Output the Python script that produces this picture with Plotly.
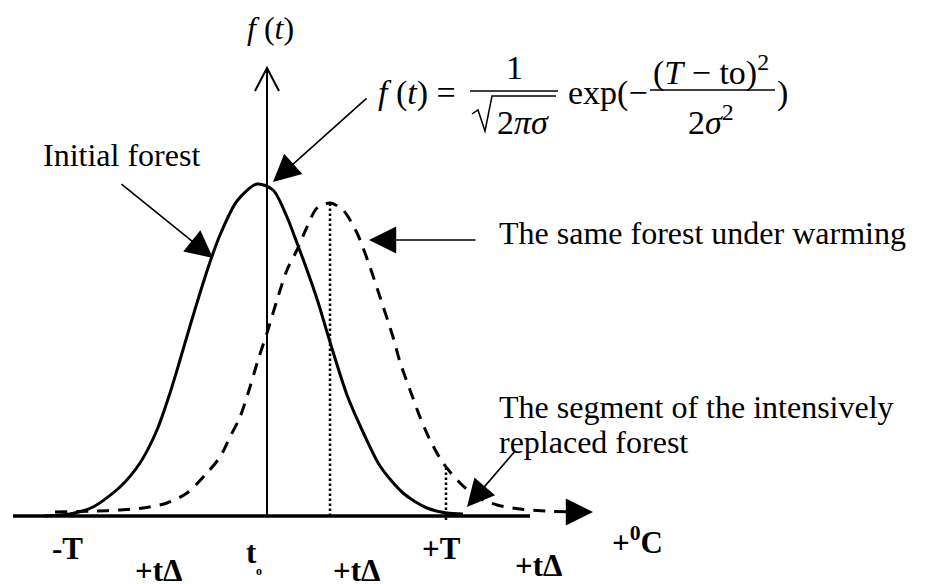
import numpy as np
import plotly.graph_objects as go

# temperature axis position (picture units) and f(t) height above the baseline
t_initial = [45, 70, 93, 120, 140, 157, 170, 180, 190, 200, 210, 220, 237, 257,
             273, 287, 297, 307, 318, 330, 347, 363, 380, 403, 427, 447, 463]
f_initial = [0, 2, 9, 29, 53, 86, 123, 156, 190, 223, 254, 281, 315, 332,
             326, 299, 273, 246, 214, 174, 121, 84, 50, 23, 8, 3, 2]

t_warm = [55, 97, 120, 143, 167, 187, 207, 220, 230, 240, 250, 258, 267, 277, 287,
          297, 307, 317, 330, 343, 357, 370, 380, 393, 400, 410, 420, 430, 443,
          460, 477, 497, 520, 545, 575]
f_warm = [4, 5, 6, 8, 13, 23, 43, 59, 79, 99, 129, 156, 183, 216, 246,
          266, 289, 308, 313, 306, 283, 249, 219, 179, 154, 126, 99, 76, 53,
          33, 19, 11, 7, 5, 4]

t_zero = 267
t_plus = 446

bottom_labels = ["-T", "+tΔ", "t", "+tΔ", "+T", "+tΔ", "+<sup>0</sup>C"]
bottom_x = [67, 158, 251, 356, 441, 538, 637]
bottom_y = [-32, -54, -36, -54, -32, -49, -24]

SERIF = "Liberation Serif, Times New Roman, serif"
BIG = 32
EQ = 34

fig = go.Figure()

fig.add_trace(go.Scatter(
    x=t_initial, y=f_initial, mode="lines", name="Initial forest",
    line=dict(color="black", width=3, shape="spline", smoothing=0.8),
    hoverinfo="skip"
))
fig.add_trace(go.Scatter(
    x=t_warm, y=f_warm, mode="lines", name="The same forest under warming",
    line=dict(color="black", width=3, dash="12px,9px", shape="spline", smoothing=0.8),
    hoverinfo="skip"
))

# dotted drops: peak of the warmed curve, and at +T
i_peak = int(np.argmax(f_warm))
peak_t = t_warm[i_peak]
peak_f = f_warm[i_peak]
plus_f = float(np.interp(t_plus, t_warm, f_warm))
fig.add_trace(go.Scatter(
    x=[peak_t, peak_t], y=[0, peak_f], mode="lines",
    line=dict(color="black", width=2.5, dash="2.5px,2.5px"), hoverinfo="skip"
))
fig.add_trace(go.Scatter(
    x=[t_plus, t_plus], y=[-4, plus_f], mode="lines",
    line=dict(color="black", width=2.5, dash="2.5px,2.5px"), hoverinfo="skip"
))

shapes = [
    # temperature axis
    dict(type="line", xref="x", yref="y", x0=13, x1=530, y0=0, y1=0,
         line=dict(color="black", width=3.5)),
    # f(t) axis with open arrow head
    dict(type="line", xref="x", yref="y", x0=t_zero, x1=t_zero, y0=0, y1=447,
         line=dict(color="black", width=2)),
    dict(type="path", xref="x", yref="y",
         path="M %d,425 L %d,448 L %d,425" % (t_zero - 12, t_zero, t_zero + 12),
         line=dict(color="black", width=2)),
    # fraction bars and radical of the formula
    dict(type="line", xref="x", yref="y", x0=470, x1=558, y0=425, y1=425,
         line=dict(color="black", width=1.5)),
    dict(type="path", xref="x", yref="y",
         path="M 472,402 L 478,406 L 485,385 L 492,420 L 556,420",
         line=dict(color="black", width=1.5)),
    dict(type="line", xref="x", yref="y", x0=650, x1=775, y0=426, y1=426,
         line=dict(color="black", width=1.5)),
]


def txt(text, x, y, size=BIG, xanchor="center", bold=False):
    return dict(text="<b>%s</b>" % text if bold else text, x=x, y=y,
                xref="x", yref="y", showarrow=False, xanchor=xanchor,
                yanchor="middle", font=dict(family=SERIF, size=size, color="black"))


def arrow(x, y, ax, ay):
    return dict(text="", x=x, y=y, ax=ax, ay=ay, xref="x", yref="y",
                axref="x", ayref="y", showarrow=True, arrowhead=2,
                arrowsize=3.4, arrowwidth=1.6, arrowcolor="black", standoff=0)


annotations = [
    txt("<i>f</i> (<i>t</i>)", 270, 488),
    txt("<i>f</i> (<i>t</i>) =", 376, 423, size=EQ, xanchor="left"),
    txt("1", 514, 449, size=EQ),
    txt("2<i>πσ</i>", 523, 394, size=EQ),
    txt("exp(−", 650, 423, size=EQ, xanchor="right"),
    txt("(<i>T</i> − to)<sup>2</sup>", 711, 446, size=EQ),
    txt("2<i>σ</i><sup>2</sup>", 711, 396, size=EQ),
    txt(")", 775, 423, size=EQ, xanchor="left"),
    txt("Initial forest", 121, 361),
    txt("The same forest under warming", 497, 283, xanchor="left"),
    txt("The segment of the intensively", 497, 109, xanchor="left"),
    txt("replaced forest", 497, 74, xanchor="left"),
    txt("o", 259, -55, size=12, bold=True),
    arrow(213, 258, 120, 333),
    arrow(273, 334, 368, 419),
    arrow(369, 276, 477, 276),
    arrow(467, 9, 516, 66),
    arrow(593, 4, 574, 4),
]
for lab, x, y in zip(bottom_labels, bottom_x, bottom_y):
    annotations.append(txt(lab, x, y, size=31, bold=True))

fig.update_layout(
    width=934, height=584,
    margin=dict(l=0, r=0, t=0, b=0),
    paper_bgcolor="white", plot_bgcolor="white",
    showlegend=False,
    shapes=shapes,
    annotations=annotations,
    xaxis=dict(range=[0, 934], visible=False, fixedrange=True),
    yaxis=dict(range=[-68, 516], visible=False, fixedrange=True),
)

fig.write_html("out.html", config={"displayModeBar": False},
               post_script="document.body.style.margin = '0';")
